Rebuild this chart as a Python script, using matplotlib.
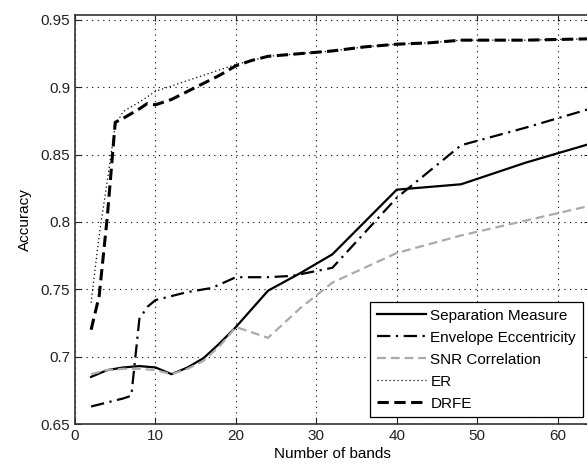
import numpy as np
import matplotlib
matplotlib.use("Agg")
import matplotlib.pyplot as plt

plt.rcParams['font.family'] = ['Liberation Sans', 'DejaVu Sans']

# Separation Measure
sm_x = [2, 4, 6, 8, 10, 12, 14, 16, 18, 20, 24, 28, 32, 40, 48, 56, 64]
sm_y = [0.685, 0.690, 0.692, 0.693, 0.692, 0.687, 0.692, 0.699, 0.710, 0.722,
        0.749, 0.762, 0.776, 0.824, 0.828, 0.844, 0.858]

# Envelope Eccentricity
ee_x = [2, 4, 6, 7, 8, 9, 10, 12, 14, 17, 20, 24, 27, 32, 40, 48, 56, 64]
ee_y = [0.663, 0.666, 0.669, 0.671, 0.728, 0.737, 0.742, 0.745, 0.748, 0.751,
        0.759, 0.759, 0.760, 0.766, 0.818, 0.857, 0.870, 0.884]

# SNR Correlation
snr_x = [2, 4, 6, 8, 10, 12, 14, 16, 18, 20, 24, 28, 32, 40, 48, 56, 64]
snr_y = [0.687, 0.690, 0.691, 0.691, 0.690, 0.687, 0.691, 0.697, 0.708, 0.722,
         0.714, 0.736, 0.755, 0.777, 0.790, 0.801, 0.812]

# ER
er_x = [2, 3, 4, 5, 6, 8, 10, 12, 14, 16, 18, 20, 22, 24, 28, 32, 36, 40, 44, 48, 56, 64]
er_y = [0.740, 0.790, 0.830, 0.872, 0.882, 0.889, 0.897, 0.901, 0.905, 0.909,
        0.913, 0.917, 0.920, 0.923, 0.925, 0.927, 0.930, 0.932, 0.933, 0.935,
        0.935, 0.936]

# DRFE
drfe_x = [2, 3, 4, 5, 6, 8, 9, 10, 12, 14, 16, 18, 20, 22, 24, 28, 32, 36, 40, 44, 48, 56, 64]
drfe_y = [0.720, 0.745, 0.803, 0.874, 0.877, 0.884, 0.888, 0.887, 0.891, 0.897,
          0.903, 0.909, 0.916, 0.920, 0.923, 0.925, 0.927, 0.930, 0.932, 0.933,
          0.935, 0.935, 0.936]

xticks = [0, 10, 20, 30, 40, 50, 60]
yticks = [0.65, 0.70, 0.75, 0.80, 0.85, 0.90, 0.95]
ytick_labels = ["0.65", "0.7", "0.75", "0.8", "0.85", "0.9", "0.95"]

fig = plt.figure(figsize=(5.87, 4.68), dpi=100)
ax = fig.add_axes([0.1278, 0.094, 0.877, 0.874])

ax.plot(sm_x, sm_y, color="black", lw=1.6, label="Separation Measure")
ax.plot(ee_x, ee_y, color="black", lw=1.6, dashes=(6, 2.5, 1, 2.5),
        label="Envelope Eccentricity")
ax.plot(snr_x, snr_y, color="#aaaaaa", lw=1.6, dashes=(4, 2.2),
        label="SNR Correlation")
ax.plot(er_x, er_y, color="black", lw=0.9, dashes=(1, 2.2), label="ER")
ax.plot(drfe_x, drfe_y, color="black", lw=2.2, dashes=(3.7, 1.8), label="DRFE")

ax.set_xlim(0, 64)
ax.set_ylim(0.65, 0.9537)
ax.set_xticks(xticks)
ax.set_yticks(yticks)
ax.set_yticklabels(ytick_labels)
ax.tick_params(direction="in", top=True, right=True, length=4, labelsize=11,
               colors="#222222")
ax.grid(True, color="black", lw=0.8, linestyle=(0, (1, 4)))
for s in ax.spines.values():
    s.set_color("#333333")
    s.set_linewidth(1.2)

ax.set_xlabel("Number of bands", fontsize=11, labelpad=3)
ax.set_ylabel("Accuracy", fontsize=11, labelpad=6)

leg = ax.legend(loc="lower left", bbox_to_anchor=(0.573, 0.016), fontsize=11,
                frameon=True, fancybox=False, edgecolor="black", framealpha=1,
                handlelength=3.2, handletextpad=0.3, labelspacing=0.52,
                borderpad=0.45, borderaxespad=0)
leg.get_frame().set_linewidth(0.9)

fig.savefig("out.png", dpi=100)
